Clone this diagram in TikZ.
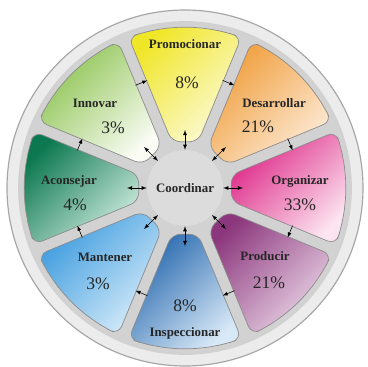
\documentclass[tikz,border=0pt]{standalone}
\usepackage{fontspec}
\setmainfont{Liberation Serif}
\usetikzlibrary{arrows,positioning}
\definecolor{rimgray}{RGB}{236,236,236}
\definecolor{gapgray}{RGB}{210,210,210}
\definecolor{hubgray}{RGB}{220,220,220}
\definecolor{promoD}{RGB}{240,230,40}  \definecolor{promoL}{RGB}{252,250,215}
\definecolor{desaD}{RGB}{240,158,60}   \definecolor{desaL}{RGB}{253,235,215}
\definecolor{orgaD}{RGB}{222,40,135}   \definecolor{orgaL}{RGB}{252,228,240}
\definecolor{prodD}{RGB}{140,55,125}   \definecolor{prodL}{RGB}{235,215,232}
\definecolor{inspD}{RGB}{40,105,175}   \definecolor{inspL}{RGB}{215,232,246}
\definecolor{mantD}{RGB}{60,155,222}   \definecolor{mantL}{RGB}{215,236,250}
\definecolor{aconD}{RGB}{12,120,80}    \definecolor{aconL}{RGB}{205,235,222}
\definecolor{innoD}{RGB}{140,195,80}   \definecolor{innoL}{RGB}{250,252,245}
\tikzset{%
    % wheel pieces
    sector/.style = {draw=black!45, line width=0.6pt, rounded corners=7.5pt},
    % texts
    task/.style   = {font=\fontsize{11}{13}\selectfont\bfseries, text=black!85},
    share/.style  = {font=\fontsize{15}{17}\selectfont, text=black!85},
    hub/.style    = {circle, fill=hubgray, minimum size=2.28cm, inner sep=0pt,
    font=\fontsize{11}{13}\selectfont\bfseries, text=black!85},
    % arrows
    link/.style   = {latex-latex, semithin},
    flow/.style   = {-latex, semithin},
    semithin/.style = {line width=0.5pt}
}

\begin{document}
\begin{tikzpicture}[x=0.03cm, y=0.03cm]

	\useasboundingbox (-185,-179) rectangle (182,188);

	% plate
	\fill[rimgray, draw=black!35, line width=1pt] (0,0) circle (178);
	\fill[gapgray, draw=black!18, line width=1.5pt] (0,0) circle (166);

	% sectors
	\foreach \a/\dark/\light in {90/promoD/promoL, 45/desaD/desaL, 0/orgaD/orgaL,
	  -45/prodD/prodL, -90/inspD/inspL, -135/mantD/mantL, 180/aconD/aconL, 135/innoD/innoL}
	{
	  \shadedraw[sector, top color=\dark, bottom color=\light, shading angle=45]
	    ({\a+22.5-6.6}:48) -- ({\a+20.5}:161)
	    \foreach \k in {1,...,7} { -- ({\a+20.5-\k*5.125}:161) }
	    -- ({\a-20.5}:161) -- ({\a-22.5+6.6}:48) -- cycle;
	}

	% centre
	\node[hub] (coord) at (0,0) {Coordinar};

	% placement des textes
	\node[task] (promo) at (0,144) {Promocionar};
	\node[share] (promop) at (2,105) {8\%};
	\node[task] (desa) at (89,85) {Desarrollar};
	\node[share] (desap) at (73,61) {21\%};
	\node[task] (orga) at (115,7) {Organizar};
	\node[share] (orgap) at (115,-17) {33\%};
	\node[task] (prod) at (80,-68) {Producir};
	\node[share] (prodp) at (84,-95) {21\%};
	\node[task] (insp) at (0,-145) {Inspeccionar};
	\node[share] (inspp) at (0,-118) {8\%};
	\node[task] (mant) at (-80,-69) {Mantener};
	\node[share] (mantp) at (-87,-96) {3\%};
	\node[task] (acon) at (-116,7) {Aconsejar};
	\node[share] (aconp) at (-110,-17) {4\%};
	\node[task] (inno) at (-90,85) {Innovar};
	\node[share] (innop) at (-72,60) {3\%};

	% fleches
	\foreach \a in {0,45,...,315}
	{
	  \coordinate (t\a) at (\a:58);
	  \draw[link] (coord.\a) -- (t\a);
	  \coordinate (f\a) at ({\a+22.5+3.2}:114);
	  \coordinate (g\a) at ({\a+22.5-3.2}:114);
	  \draw[flow] (f\a) -- (g\a);
	}

\end{tikzpicture}
\end{document}
